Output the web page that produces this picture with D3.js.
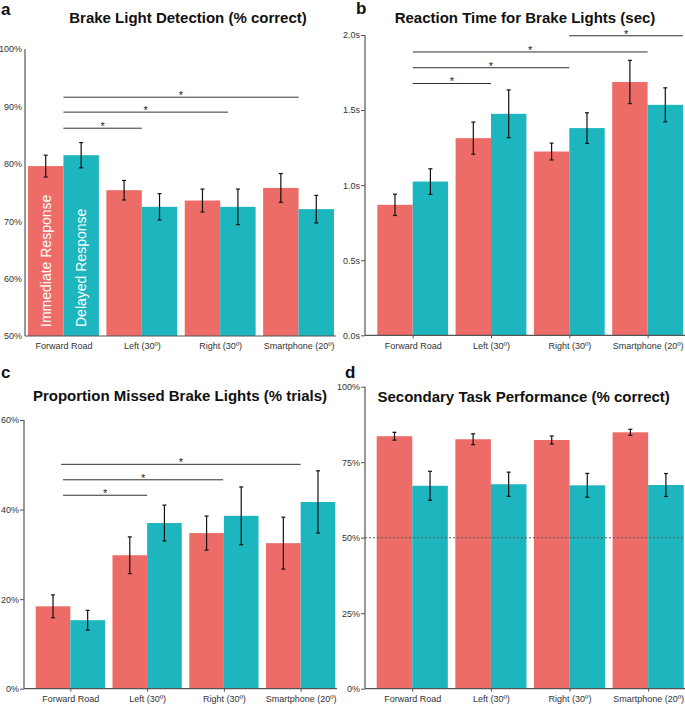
<!DOCTYPE html>
<html><head><meta charset="utf-8">
<script src="https://cdn.jsdelivr.net/npm/d3@7/dist/d3.min.js"></script>
<style>body{margin:0;background:#fff}svg{display:block;font-family:"Liberation Sans",Arial,Helvetica,sans-serif}</style>
</head><body><svg id="c" width="685" height="705"></svg>
<script>
const categories = ["Forward Road", "Left (30º)", "Right (30º)", "Smartphone (20º)"];
const seriesNames = ["Immediate Response", "Delayed Response"];

// Panel a: Brake light detection (% correct)
const detectImmediate = [79.6, 75.4, 73.6, 75.8];
const detectImmediateErr = [1.9, 1.7, 2.0, 2.5];
const detectDelayed = [81.5, 72.5, 72.5, 72.1];
const detectDelayedErr = [2.2, 2.3, 3.1, 2.4];
const detectTicks = [50, 60, 70, 80, 90, 100];
const detectSig = [[0, 1, 86.2], [0, 2.1, 89.0], [0, 3, 91.6]];

// Panel b: Reaction time (sec)
const rtImmediate = [0.869, 1.313, 1.224, 1.687];
const rtImmediateErr = [0.071, 0.107, 0.056, 0.144];
const rtDelayed = [1.024, 1.475, 1.38, 1.535];
const rtDelayedErr = [0.085, 0.159, 0.102, 0.113];
const rtTicks = [0, 0.5, 1.0, 1.5, 2.0];
const rtSig = [[0, 1, 1.677], [0, 2, 1.782], [0, 3, 1.887], [2, 3.45, 1.995]];

// Panel c: Proportion missed (% trials)
const missImmediate = [18.4, 29.8, 34.75, 32.5];
const missImmediateErr = [2.55, 4.1, 3.8, 5.8];
const missDelayed = [15.3, 37.0, 38.6, 41.7];
const missDelayedErr = [2.2, 4.0, 6.45, 6.95];
const missTicks = [0, 20, 40, 60];
const missSig = [[-0.12, 3, 50.1], [-0.095, 1.99, 46.65], [-0.095, 1.0, 43.2]];

// Panel d: Secondary task (% correct)
const secImmediate = [83.6, 82.6, 82.35, 84.9];
const secImmediateErr = [1.3, 1.8, 1.35, 1.0];
const secDelayed = [67.2, 67.7, 67.35, 67.45];
const secDelayedErr = [4.8, 4.0, 3.95, 3.8];
const secTicks = [0, 25, 50, 75, 100];
const secChance = [50];

const COLORS = ["#ED6C68", "#1DB6BE"];
const AXIS = "#555";
const svg = d3.select("#c");

function panel(cfg) {
  const g = svg.append("g");
  const y = d3.scaleLinear().domain(cfg.domain).range([cfg.yBottom, cfg.yTop]);
  const gap = 7.5;
  const L = cfg.gEnd - cfg.gStart + gap;
  const step = L / categories.length;
  const x0 = d3.scaleBand().domain(categories)
    .range([cfg.gStart - gap / 2, cfg.gEnd + gap / 2])
    .paddingInner(gap / step).paddingOuter(gap / step / 2);
  const x1 = d3.scaleBand().domain([0, 1]).range([0, x0.bandwidth()]);
  const center = i => x0(categories[0]) + x0.bandwidth() / 2 + i * x0.step();

  const rows = [];
  categories.forEach((c, i) => {
    [0, 1].forEach(s => rows.push({c, s, v: cfg.vals[s][i], e: cfg.errs[s][i]}));
  });
  // bars
  g.selectAll("rect.bar").data(rows).join("rect")
    .attr("x", d => x0(d.c) + x1(d.s))
    .attr("width", x1.bandwidth())
    .attr("y", d => y(d.v))
    .attr("height", d => y(cfg.domain[0]) - y(d.v))
    .attr("fill", d => COLORS[d.s]);

  // in-bar series labels
  if (cfg.barLabels) {
    g.selectAll("text.bl").data(seriesNames).join("text")
      .attr("transform", (d, s) => `translate(${x0(categories[0]) + x1(s) + x1.bandwidth() / 2},${y(cfg.domain[0]) - 9}) rotate(-90)`)
      .attr("dy", "0.36em")
      .attr("fill", "#fff").attr("font-size", 14)
      .text(d => d);
  }

  // chance line
  if (cfg.chance) {
    g.selectAll("line.ch").data(cfg.chance).join("line")
      .attr("x1", cfg.axisX).attr("x2", cfg.axisEnd)
      .attr("y1", d => y(d)).attr("y2", d => y(d))
      .attr("stroke", "#555").attr("stroke-width", 1.1).attr("stroke-dasharray", "2,2");
  }

  // error bars
  const eb = g.selectAll("g.eb").data(rows).join("g")
    .attr("transform", d => `translate(${x0(d.c) + x1(d.s) + x1.bandwidth() / 2},0)`);
  eb.append("line").attr("y1", d => y(d.v - d.e)).attr("y2", d => y(d.v + d.e))
    .attr("stroke", "#111").attr("stroke-width", 1.2);
  eb.append("line").attr("x1", -2).attr("x2", 2).attr("y1", d => y(d.v + d.e)).attr("y2", d => y(d.v + d.e))
    .attr("stroke", "#111").attr("stroke-width", 1.2);
  eb.append("line").attr("x1", -2).attr("x2", 2).attr("y1", d => y(d.v - d.e)).attr("y2", d => y(d.v - d.e))
    .attr("stroke", "#111").attr("stroke-width", 1.2);

  // significance brackets
  if (cfg.sig) {
    g.selectAll("line.sig").data(cfg.sig).join("line")
      .attr("x1", d => center(d[0])).attr("x2", d => center(d[1]))
      .attr("y1", d => y(d[2])).attr("y2", d => y(d[2]))
      .attr("stroke", "#333").attr("stroke-width", 1);
    g.selectAll("text.sig").data(cfg.sig).join("text")
      .attr("x", d => (center(d[0]) + center(d[1])) / 2)
      .attr("y", d => y(d[2]) + 2)
      .attr("text-anchor", "middle").attr("font-size", 11).attr("fill", "#222")
      .text("*");
  }

  // y axis
  const ya = d3.axisLeft(y).tickValues(cfg.ticks).tickFormat(cfg.fmt)
    .tickSize(cfg.yTickSize).tickPadding(cfg.yTickSize ? 1 : 3);
  const yg = g.append("g").attr("transform", `translate(${cfg.axisX},0)`).call(ya);
  yg.select(".domain").remove();
  yg.selectAll(".tick line").attr("stroke", AXIS);
  yg.selectAll(".tick text").attr("font-size", 9).attr("fill", "#333").attr("font-family", "Liberation Sans, Arial, sans-serif");
  g.append("line").attr("x1", cfg.axisX).attr("x2", cfg.axisX)
    .attr("y1", cfg.yTop).attr("y2", cfg.yBottom).attr("stroke", AXIS).attr("stroke-width", 1.2);

  // x axis
  g.append("line").attr("x1", cfg.axisX).attr("x2", cfg.axisEnd)
    .attr("y1", cfg.yBottom).attr("y2", cfg.yBottom).attr("stroke", AXIS).attr("stroke-width", 1.2);
  const xa = d3.axisBottom(d3.scalePoint().domain(categories).range([center(0), center(3)]))
    .tickSize(cfg.xTicks ? 3 : 0).tickPadding(cfg.xTicks ? 4 : 7);
  const xg = g.append("g").attr("transform", `translate(0,${cfg.yBottom})`).call(xa);
  xg.select(".domain").remove();
  xg.selectAll(".tick line").attr("stroke", AXIS);
  xg.selectAll(".tick text").attr("font-size", 9).attr("fill", "#333").attr("font-family", "Liberation Sans, Arial, sans-serif");

  // title & letter
  g.append("text").attr("x", cfg.titleX).attr("y", cfg.titleY).attr("text-anchor", "middle")
    .attr("font-size", 15).attr("font-weight", "bold").attr("fill", "#111").text(cfg.title);
  g.append("text").attr("x", cfg.letterX).attr("y", cfg.letterY)
    .attr("font-size", 17).attr("font-weight", "bold").attr("fill", "#111").text(cfg.letter);
}

const pct = d => d + "%";
panel({letter: "a", letterX: 1, letterY: 15, title: "Brake Light Detection (% correct)", titleX: 188, titleY: 22.7,
  domain: [50, 100], yBottom: 336, yTop: 49, axisX: 25, axisEnd: 336, gStart: 28, gEnd: 334,
  vals: [detectImmediate, detectDelayed], errs: [detectImmediateErr, detectDelayedErr],
  ticks: detectTicks, fmt: pct, yTickSize: 0, xTicks: false, sig: detectSig, barLabels: true});
panel({letter: "b", letterX: 356, letterY: 14, title: "Reaction Time for Brake Lights (sec)", titleX: 525, titleY: 23.3,
  domain: [0, 2], yBottom: 335.3, yTop: 35, axisX: 365, axisEnd: 685, gStart: 377.3, gEnd: 683,
  vals: [rtImmediate, rtDelayed], errs: [rtImmediateErr, rtDelayedErr],
  ticks: rtTicks, fmt: d => d3.format(".1f")(d) + "s", yTickSize: 4, xTicks: true, sig: rtSig});
panel({letter: "c", letterX: 1, letterY: 378, title: "Proportion Missed Brake Lights (% trials)", titleX: 180, titleY: 401,
  domain: [0, 60], yBottom: 688.7, yTop: 420, axisX: 24, axisEnd: 337, gStart: 35.7, gEnd: 335.3,
  vals: [missImmediate, missDelayed], errs: [missImmediateErr, missDelayedErr],
  ticks: missTicks, fmt: pct, yTickSize: 4, xTicks: true, sig: missSig});
panel({letter: "d", letterX: 345, letterY: 378, title: "Secondary Task Performance (% correct)", titleX: 523.7, titleY: 401.7,
  domain: [0, 100], yBottom: 688.7, yTop: 386.7, axisX: 365, axisEnd: 685, gStart: 376.7, gEnd: 683.7,
  vals: [secImmediate, secDelayed], errs: [secImmediateErr, secDelayedErr],
  ticks: secTicks, fmt: pct, yTickSize: 4, xTicks: true, chance: secChance});
</script></body></html>
